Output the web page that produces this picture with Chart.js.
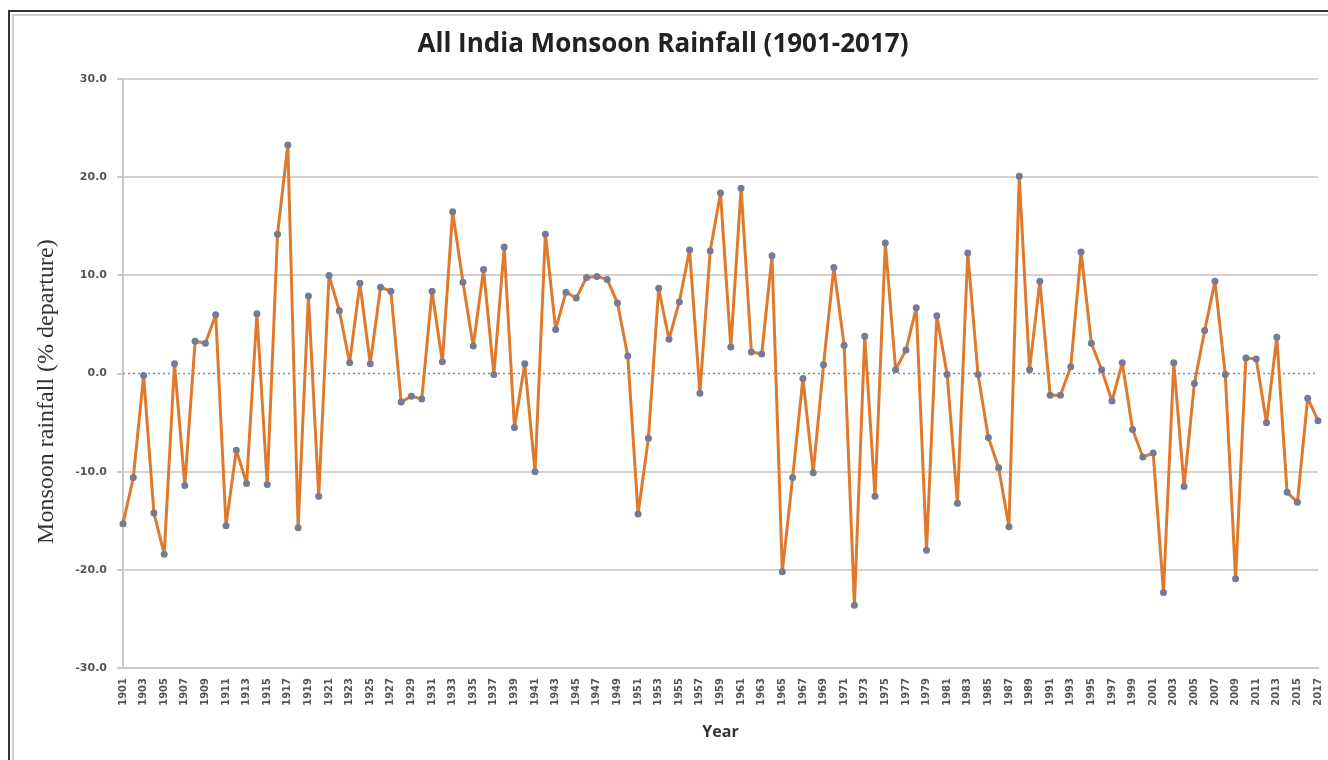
<!DOCTYPE html>
<html>
<head>
<meta charset="utf-8">
<script src="https://cdn.jsdelivr.net/npm/chart.js@4.4.1/dist/chart.umd.min.js"></script>
<style>
html,body{margin:0;padding:0;background:#fff;}
body{width:1328px;height:760px;position:relative;overflow:hidden;}
#frame{position:absolute;left:8px;top:10px;width:1340px;height:780px;border-left:2px solid #333;border-top:2px solid #333;}
#inner{position:absolute;left:12px;top:14px;width:1340px;height:780px;border-left:2px solid #d6d0cc;border-top:2px solid #d6d0cc;}
canvas{position:absolute;left:0;top:0;}
</style>
</head>
<body>
<div id="frame"></div>
<div id="inner"></div>
<canvas id="c" width="1328" height="760"></canvas>
<script>
const years=[];
for(let y=1901;y<=2017;y++) years.push(String(y));

const rainfall=[
-15.3,-10.6,-0.2,-14.2,-18.4,1.0,-11.4,3.3,3.1,6.0,
-15.5,-7.8,-11.2,6.1,-11.3,14.2,23.3,-15.7,7.9,-12.5,
10.0,6.4,1.1,9.2,1.0,8.8,8.4,-2.9,-2.3,-2.6,
8.4,1.2,16.5,9.3,2.8,10.6,-0.1,12.9,-5.5,1.0,
-10.0,14.2,4.5,8.3,7.7,9.8,9.9,9.6,7.2,1.8,
-14.3,-6.6,8.7,3.5,7.3,12.6,-2.0,12.5,18.4,2.7,
18.9,2.2,2.0,12.0,-20.2,-10.6,-0.5,-10.1,0.9,10.8,
2.9,-23.6,3.8,-12.5,13.3,0.4,2.4,6.7,-18.0,5.9,
-0.1,-13.2,12.3,-0.1,-6.5,-9.6,-15.6,20.1,0.4,9.4,
-2.2,-2.2,0.7,12.4,3.1,0.4,-2.8,1.1,-5.7,-8.5,
-8.1,-22.3,1.1,-11.5,-1.0,4.4,9.4,-0.1,-20.9,1.6,
1.5,-5.0,3.7,-12.1,-13.1,-2.5,-4.8
];

const yTicks=[30,20,10,0,-10,-20,-30];

// dotted zero line drawn through the y scale
const zeroLine={
id:"zeroLine",
beforeDatasetsDraw(chart){
const {ctx,chartArea,scales}=chart;
const y=scales.y.getPixelForValue(0);
ctx.save();
ctx.strokeStyle="#8a8a8a";
ctx.lineWidth=1.5;
ctx.setLineDash([2,3]);
ctx.beginPath();
ctx.moveTo(chartArea.left,y);
ctx.lineTo(chartArea.right,y);
ctx.stroke();
ctx.restore();
}
};

new Chart(document.getElementById("c"),{
type:"line",
data:{
labels:years,
datasets:[{
data:rainfall,
borderColor:"#df7a2d",
borderWidth:3,
borderJoinStyle:"round",
pointRadius:3.5,
pointBackgroundColor:"#737b96",
pointBorderColor:"#737b96",
pointBorderWidth:0,
tension:0
}]
},
options:{
responsive:false,
animation:false,
events:[],
layout:{padding:{left:8,right:10,top:0,bottom:0}},
plugins:{
legend:{display:false},
tooltip:{enabled:false},
title:{
display:true,
text:"All India Monsoon Rainfall (1901-2017)",
color:"#222",
font:{family:"Open Sans",size:26,weight:"bold"},
padding:{top:29,bottom:19}
},
},
scales:{
x:{
type:"category",
offset:false,
grid:{display:false,drawTicks:false},
border:{display:true,color:"#cfc8c2",width:2},
ticks:{
autoSkip:false,
maxRotation:90,
minRotation:90,
padding:10,
color:"#555",
font:{family:"DejaVu Sans",size:10,weight:"bold"},
callback:(v,i)=>i%2===0?years[i]:""
},
title:{
display:true,
text:"Year",
color:"#333",
font:{family:"Open Sans",size:16,weight:"bold"},
padding:{top:0,bottom:18}
},
afterFit(scale){scale.height=92;scale.paddingRight=0;scale.paddingLeft=0;}
},
y:{
min:-30,
max:30,
afterBuildTicks(scale){scale.ticks=yTicks.map(v=>({value:v}));},
grid:{
color:ctx=>ctx.tick&&ctx.tick.value===0?"rgba(0,0,0,0)":"#d8d1cb",
lineWidth:2,
tickLength:6,
tickColor:"#cfc8c2"
},
border:{display:true,color:"#cfc8c2",width:2},
ticks:{
padding:10,
color:"#555",
font:{family:"DejaVu Sans",size:11,weight:"bold"},
callback:v=>v.toFixed(1)
},
title:{
display:true,
text:"Monsoon rainfall (% departure)      ",
color:"#333",
font:{family:"Liberation Serif",size:24},
padding:{top:24,bottom:0}
},
afterFit(scale){scale.width=115;scale.paddingTop=0;scale.paddingBottom=0;}
}
}
},
plugins:[zeroLine]
});
</script>
</body>
</html>
